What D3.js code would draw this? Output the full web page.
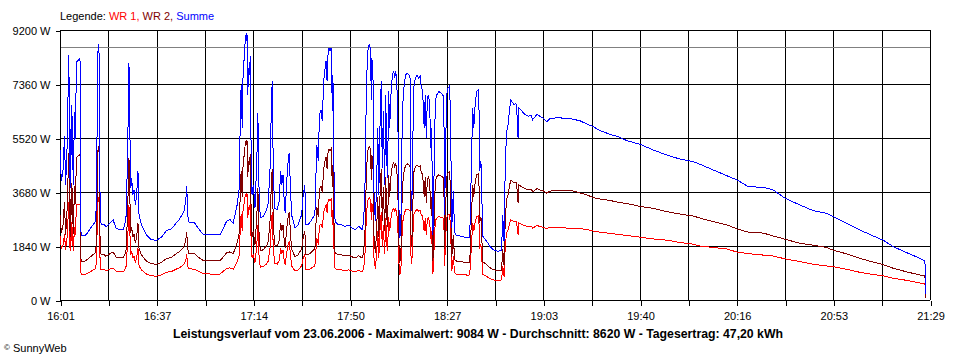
<!DOCTYPE html>
<html><head><meta charset="utf-8">
<script src="https://cdn.jsdelivr.net/npm/d3@7"></script>
<style>
body{margin:0;background:#fff}
svg{display:block}
text{font-family:"Liberation Sans",Arial,sans-serif;font-size:11px;fill:#000}
</style>
</head><body><svg id="c" width="960" height="360"></svg>
<script>
// time in minutes after 16:01
const minutes=[
0,0.5,1.1,1.7,2.1,2.6,3.0,3.3,3.6,3.8,
4.3,4.6,4.8,5.1,5.4,5.6,5.8,6.2,7.4,7.6,
7.8,8.1,9.4,10.6,12.1,13.2,13.8,14.1,14.4,14.7,
14.9,15.2,15.8,16.6,17.3,20.0,21.2,23.8,24.4,25.0,
25.6,26.0,26.4,26.7,27.0,27.5,27.9,28.4,28.9,29.4,
29.8,30.7,32.5,34.4,36.3,38.2,40.1,42.0,43.8,45.1,
46.7,47.4,47.8,48.1,48.6,50.8,52.0,53.9,56.6,60.3,
61.6,62.8,64.1,65.3,66.0,66.8,67.6,68.0,68.3,68.7,
69.1,69.5,69.9,70.2,70.5,70.8,71.1,71.5,71.7,72.0,
72.4,72.9,73.5,74.2,74.6,75.0,75.5,76.6,77.9,78.5,
79.2,79.7,80.0,80.4,80.9,81.9,82.6,83.2,83.6,84.1,
84.4,84.9,85.4,86.0,86.4,86.8,87.3,88.6,89.8,91.1,
91.7,92.3,92.7,93.6,94.9,96.1,96.8,97.4,97.8,98.4,
98.9,99.4,99.8,100.3,100.7,100.9,101.4,101.8,102.2,102.7,
102.9,103.3,103.7,104.9,106.2,107.4,109.0,110.1,111.3,112.6,
113.9,114.5,115.1,115.5,116.0,116.6,117.0,117.4,117.6,118.0,
118.4,118.9,119.4,119.8,120.2,120.6,121.1,121.5,121.9,122.4,
122.8,123.2,123.5,123.9,124.3,124.7,125.1,125.4,125.8,126.2,
126.6,127.0,127.3,127.7,128.1,128.5,129.0,129.4,129.9,130.4,
130.9,131.5,132.0,132.4,132.8,133.3,134.0,134.6,135.2,135.8,
136.2,136.7,137.3,137.7,138.1,138.5,139.0,139.4,139.8,140.1,
140.6,141.0,141.5,142.1,142.8,143.6,144.7,145.0,145.4,145.8,
146.3,146.8,147.2,147.7,148.3,148.7,149.0,150.8,152.8,154.2,
154.7,155.1,155.6,156.0,156.6,157.2,157.9,158.2,158.7,159.4,
160.9,162.1,163.4,165.2,166.5,166.9,167.4,167.9,168.4,168.9,
169.7,170.0,170.7,171.2,171.9,172.4,172.7,173.0,174.1,175.3,
176.6,177.6,178.2,179.1,179.8,181.0,182.2,183.5,184.7,187.9,
192.9,196.0,198.6,201.1,203.6,207.4,211.1,213.7,218.7,223.7,
228.7,233.7,238.8,241.3,246.3,251.4,255.3,259.5,265.2,268.9,
273.4,279.0,284.0,289.0,291.5,296.6,301.6,306.6,310.2,314.2,
319.2,324.2,326.1,326.3];

const summe=[
5111,4055,4361,5588,3918,4941,6815,8348,5963,3816,
6644,4430,6270,3918,6406,5452,5520,8110,8212,8110,
2385,2181,2181,2317,2521,2658,3237,7667,8723,8518,
5281,2658,2556,2590,2487,2736,2429,2395,2566,2907,
5633,8076,5418,3816,4157,3588,3758,3247,3588,4385,
2907,2566,2225,2055,2034,2136,2361,2419,2624,2760,
3022,3363,3874,2907,2658,2624,2453,2249,2215,2215,
2453,2682,2736,2624,2907,3247,3816,6430,7336,5861,
8134,8178,9040,8815,9084,6995,7905,7677,8304,5520,
3588,3929,3135,4726,6372,3929,2794,2852,3077,3305,
4498,6655,7452,4498,3135,3077,3363,4385,3929,4269,
3588,2964,3929,4726,5009,4044,2907,2453,2566,2907,
3588,3929,2566,2566,2736,2907,5292,4726,6314,6484,
6089,7452,7793,8134,7452,8246,8587,8474,8587,6430,
7677,4385,2682,2566,2566,2511,2556,2453,2395,2511,
2395,2682,4269,7224,8474,8723,8587,6825,8246,7565,
3475,2682,4044,5861,3588,5748,7452,4498,6430,3929,
6995,4726,4157,7111,5861,6883,7452,7677,7793,7565,
7793,7224,6883,3475,2113,2453,5861,6995,7452,7677,
7735,7677,7565,3022,3748,7224,7565,7677,7565,7622,
7224,7166,5861,6995,5520,6883,6995,6542,5179,5861,
2225,4157,6770,6995,7111,7053,6941,2907,5292,6995,
7224,7281,6474,2453,3704,2453,2225,2181,2136,2113,
2682,4726,6542,5861,6770,7111,7166,4385,4726,2170,
2000,1830,1714,1659,1704,2907,2000,4726,5748,5963,
6655,6825,6712,6655,6712,6201,5520,6542,6440,6314,
6259,6304,6144,6235,6338,6253,6191,6075,6185,6212,
6167,6110,5997,5905,5769,5646,5544,5428,5305,5111,
4941,4804,4712,4624,4430,4235,4089,3861,3840,3748,
3465,3237,3043,2954,2838,2613,2385,2181,2044,1816,
1612,1421,1329,220];

const wr2=[
2900,2300,2500,3350,2200,2900,4090,5000,3600,2150,
3990,2600,3800,2250,3900,3250,3300,4850,4950,4880,
1430,1318,1318,1400,1520,1600,1950,4600,5230,5110,
3170,1600,1530,1550,1490,1640,1460,1440,1540,1740,
3380,4850,3250,2290,2490,2150,2250,1950,2150,2630,
1740,1540,1335,1233,1220,1280,1415,1450,1575,1655,
1810,2020,2320,1740,1595,1575,1470,1350,1330,1330,
1470,1610,1640,1575,1745,1950,2290,3860,4400,3520,
4880,4900,5420,5290,5450,4200,4740,4600,4980,3310,
2150,2360,1880,2840,3820,2360,1680,1710,1850,1980,
2700,3990,4470,2700,1880,1850,2020,2630,2360,2560,
2150,1780,2360,2840,3000,2430,1745,1470,1540,1745,
2150,2360,1540,1540,1640,1745,3180,2840,3790,3890,
3650,4470,4680,4880,4470,4950,5150,5080,5150,3860,
4600,2630,1610,1540,1540,1505,1530,1470,1435,1505,
1435,1610,2560,4330,5080,5230,5150,4090,4950,4540,
2085,1610,2430,3520,2150,3450,4470,2700,3860,2360,
4200,2840,2490,4270,3520,4130,4470,4600,4680,4540,
4680,4330,4130,2085,1270,1470,3520,4200,4470,4600,
4640,4600,4540,1810,2250,4330,4540,4600,4540,4570,
4330,4300,3520,4200,3310,4130,4200,3930,3110,3520,
1335,2490,4060,4200,4270,4230,4160,1745,3180,4200,
4330,4370,3880,1470,2220,1470,1335,1310,1280,1270,
1610,2840,3930,3520,4060,4270,4300,2630,2840,1300,
1200,1100,1030,1000,1020,1745,1200,2840,3450,3580,
3990,4090,4020,3990,4020,3720,3300,3920,3860,3790,
3750,3780,3690,3740,3800,3750,3720,3640,3710,3740,
3730,3650,3580,3490,3440,3390,3320,3290,3190,3120,
3010,2930,2860,2790,2670,2560,2420,2310,2280,2180,
2070,1930,1870,1790,1700,1570,1420,1290,1210,1080,
960,850,818,80];

const wr1=[
2200,1750,1860,2240,1720,2040,2720,3350,2360,1670,
2650,1830,2470,1670,2500,2200,2220,3260,3260,3230,
955,863,863,917,1000,1058,1287,3067,3490,3408,
2111,1058,1026,1040,997,1096,969,955,1026,1167,
2253,3226,2168,1526,1667,1438,1508,1297,1438,1755,
1167,1026,890,822,814,856,946,969,1049,1105,
1212,1343,1554,1167,1063,1049,983,899,885,885,
983,1072,1096,1049,1162,1297,1526,2570,2936,2341,
3254,3278,3620,3525,3634,2795,3165,3077,3324,2210,
1438,1569,1255,1886,2552,1569,1114,1142,1227,1325,
1798,2665,2982,1798,1255,1227,1343,1755,1569,1709,
1438,1184,1569,1886,2009,1614,1162,983,1026,1162,
1438,1569,1026,1026,1096,1162,2112,1886,2524,2594,
2439,2982,3113,3254,2982,3296,3437,3394,3437,2570,
3077,1755,1072,1026,1026,1006,1026,983,960,1006,
960,1072,1709,2894,3394,3493,3437,2735,3296,3025,
1390,1072,1614,2341,1438,2298,2982,1798,2570,1569,
2795,1886,1667,2841,2341,2753,2982,3077,3113,3025,
3113,2894,2753,1390,843,983,2341,2795,2982,3077,
3095,3077,3025,1212,1498,2894,3025,3077,3025,3052,
2894,2866,2341,2795,2210,2753,2795,2612,2069,2341,
890,1667,2710,2795,2841,2823,2781,1162,2112,2795,
2894,2911,2594,983,1484,983,890,871,856,843,
1072,1886,2612,2341,2710,2841,2866,1755,1886,870,
800,730,684,659,684,1162,800,1886,2298,2383,
2665,2735,2692,2665,2692,2481,2220,2622,2580,2524,
2509,2524,2454,2495,2538,2503,2471,2435,2475,2470,
2440,2435,2400,2350,2310,2270,2230,2200,2140,2080,
2040,1960,1900,1840,1790,1740,1630,1580,1530,1500,
1400,1310,1220,1160,1135,1045,943,870,828,740,
670,580,545,240];

const yTicks=[0,1840,3680,5520,7360,9200];
const xTickLabels=["16:01","16:37","17:14","17:50","18:27","19:03","19:40","20:16","20:53","21:29"];
const totalMinutes=328;
const referenceValue=8620;
const legendItems=[{label:"WR 1, ",color:"#ff0000"},{label:"WR 2, ",color:"#800000"},{label:"Summe",color:"#0000ff"}];
const titleText="Leistungsverlauf vom 23.06.2006 - Maximalwert: 9084 W - Durchschnitt: 8620 W - Tagesertrag: 47,20 kWh";

const svg=d3.select("#c");
const L=60,R=930,T=30,B=300;
const x=d3.scaleLinear().domain([0,totalMinutes]).range([L,R]);
const y=d3.scaleLinear().domain([0,9200]).range([B,T]);
const xTickVals=d3.range(19).map(i=>i*totalMinutes/18);

// grid
const grid=svg.append("g").attr("shape-rendering","crispEdges").attr("stroke","#000").attr("stroke-width",1);
grid.selectAll("line.h").data(yTicks).join("line").attr("class","h")
  .attr("x1",L).attr("x2",R).attr("y1",d=>Math.round(y(d))+0.5).attr("y2",d=>Math.round(y(d))+0.5);
grid.selectAll("line.v").data(xTickVals).join("line").attr("class","v")
  .attr("x1",d=>Math.round(x(d))+0.5).attr("x2",d=>Math.round(x(d))+0.5).attr("y1",T).attr("y2",B);
// reference line
svg.append("line").attr("shape-rendering","crispEdges").attr("stroke","#808080")
  .attr("x1",L+1).attr("x2",R).attr("y1",Math.round(y(referenceValue))+0.5).attr("y2",Math.round(y(referenceValue))+0.5);

// axes
const yAxis=d3.axisLeft(y).tickValues(yTicks).tickSize(5).tickPadding(5).tickFormat(d=>d+" W");
const gy=svg.append("g").attr("transform",`translate(${L+0.5},0.5)`).call(yAxis);
const xAxis=d3.axisBottom(x).tickValues(xTickVals).tickSize(5).tickPadding(7).tickFormat((d,i)=>i%2===0?xTickLabels[i/2]:"");
const gx=svg.append("g").attr("transform",`translate(0.5,${B+0.5})`).call(xAxis);
[gx,gy].forEach(g=>{g.attr("shape-rendering","crispEdges");g.select(".domain").attr("stroke","#000");g.selectAll(".tick line").attr("stroke","#000");g.selectAll("text").attr("font-family",null).attr("font-size",null).style("fill","#000");});
gx.select(".domain").remove();gy.select(".domain").remove();
gy.append("line").attr("x1",0).attr("x2",0).attr("y1",T-0.5).attr("y2",B-0.5).attr("stroke","#000");

// series
const series=[{v:wr1,c:"#ff0000"},{v:wr2,c:"#800000"},{v:summe,c:"#0000ff"}];
const line=v=>d3.line().x((d,i)=>x(minutes[i])).y(d=>y(d))(v);
svg.append("g").selectAll("path").data(series).join("path")
  .attr("d",d=>line(d.v)).attr("fill","none").attr("stroke",d=>d.c).attr("stroke-width",1)
  .attr("shape-rendering","crispEdges");

// legend
const lg=svg.append("text").attr("x",60).attr("y",20);
lg.append("tspan").text("Legende: ");
lg.selectAll("tspan.it").data(legendItems).join("tspan").attr("class","it").style("fill",d=>d.color).text(d=>d.label);

// title
svg.append("text").attr("x",478).attr("y",338).attr("text-anchor","middle").attr("font-weight","bold")
  .style("font-size","12px").attr("textLength",610).attr("lengthAdjust","spacingAndGlyphs").text(titleText);
const cp=svg.append("text").attr("x",4).attr("y",352);
cp.append("tspan").attr("font-size","8px").attr("dy","-2").text("©");
cp.append("tspan").attr("dy","2").text(" SunnyWeb");
</script>
</body></html>
